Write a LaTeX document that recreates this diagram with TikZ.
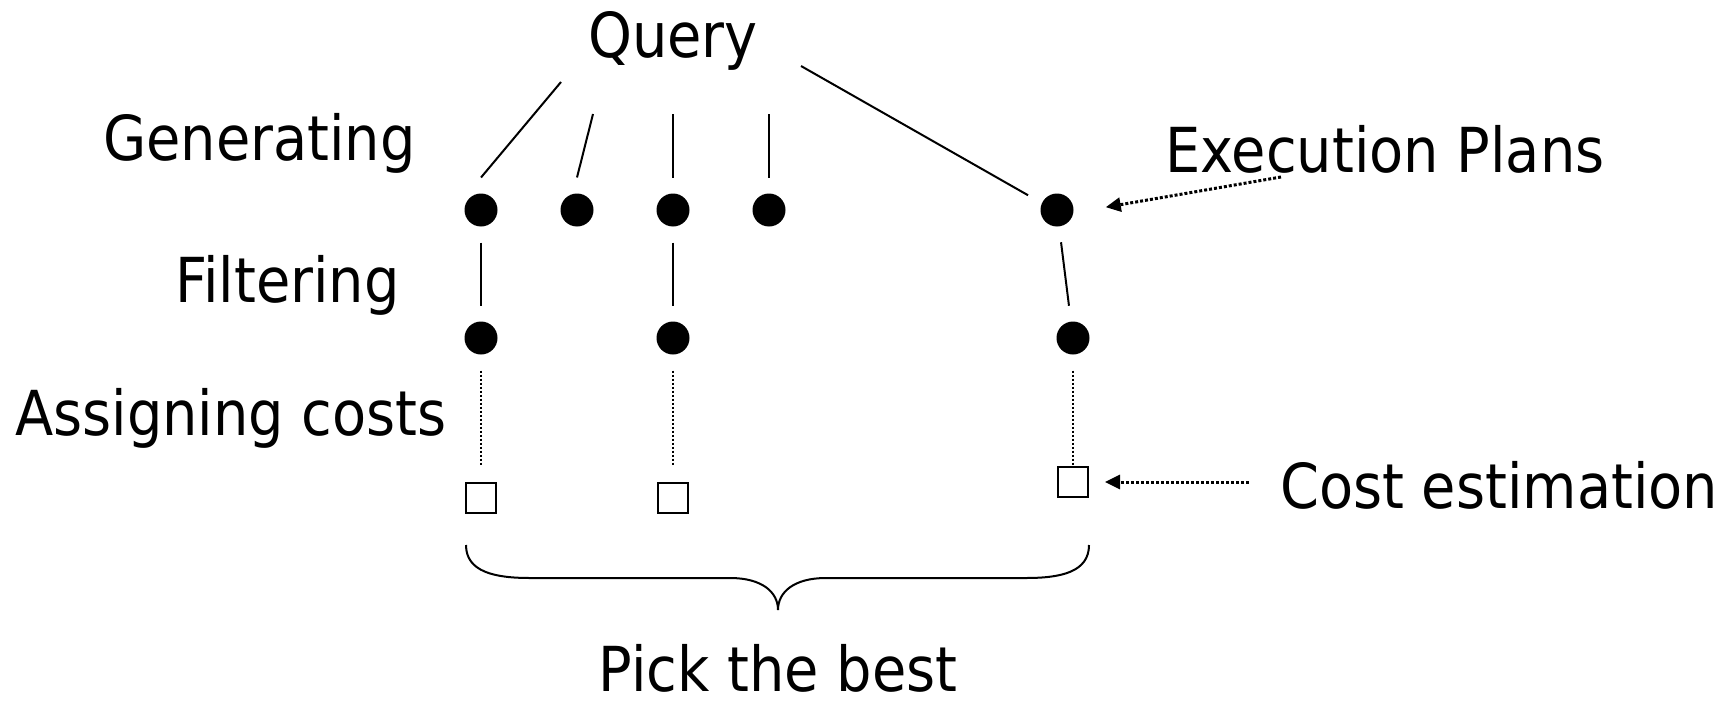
\documentclass[tikz,border=0pt]{standalone}
\usepackage{fontspec}
\setmainfont{DejaVu Sans}[FakeStretch=0.9]
\usetikzlibrary{arrows.meta}
\begin{document}
\begin{tikzpicture}[x=1pt,y=-1pt,
  labeltext/.style={inner sep=0pt, font=\fontsize{62}{74}\selectfont},
  plan/.style={circle, fill=black, minimum size=33pt, inner sep=0pt, outer sep=16pt},
  costbox/.style={draw, line width=2.5pt, minimum size=30pt, inner sep=0pt},
  edge/.style={line width=2pt},
  costlink/.style={line width=2pt, dash pattern=on 2pt off 2pt},
  pointer/.style={line width=3pt, dash pattern=on 3pt off 2pt,
    -{Triangle[length=15pt,width=14pt]}},
]
\useasboundingbox (0,0) rectangle (1720,701);

% stage labels
\node[labeltext, anchor=base] (query) at (673,57) {Query};
\node[labeltext, anchor=base west] (gen) at (103,160) {Generating};
\node[labeltext, anchor=base west] (filt) at (175,302) {Filtering};
\node[labeltext, anchor=base west] (assign) at (15,435) {Assigning costs};
\node[labeltext, anchor=base west] (plans) at (1165,172) {Execution Plans};
\node[labeltext, anchor=base west] (est) at (1280,508) {Cost estimation};
\node[labeltext, anchor=base, text depth=0pt] (pick) at (778,691) {Pick the best};

% generated plans
\node[plan] (d1) at (481,210) {};
\node[plan] (d2) at (577,210) {};
\node[plan] (d3) at (673,210) {};
\node[plan] (d4) at (769,210) {};
\node[plan] (d5) at (1057,210) {};

% plans kept after filtering
\node[plan] (f1) at (481,338) {};
\node[plan] (f2) at (673,338) {};
\node[plan] (f3) at (1073,338) {};

% cost boxes
\node[costbox, outer sep=18pt] (b1) at (481,498) {};
\node[costbox, outer sep=18pt] (b2) at (673,498) {};
\node[costbox, outer sep=0pt] (b3) at (1073,482) {};

% branches leaving the query
\coordinate (q1) at (561,82);
\coordinate (q2) at (593,114);
\coordinate (q3) at (673,114);
\coordinate (q4) at (769,114);
\coordinate (q5) at (801,66);
\draw[edge] (q1) -- (d1.north);
\draw[edge] (q2) -- (d2.north);
\draw[edge] (q3) -- (d3.north);
\draw[edge] (q4) -- (d4.north);
\draw[edge] (q5) -- (d5.153);

% filtering
\draw[edge] (d1) -- (f1);
\draw[edge] (d3) -- (f2);
\draw[edge] (d5) -- (f3);

% cost assignment
\draw[costlink] (f1) -- (b1);
\draw[costlink] (f2) -- (b2);
\draw[costlink] (f3) -- (b3);

% callouts
\coordinate (epfrom) at (1281,177);
\coordinate (cefrom) at (1249,482);
\draw[pointer, shorten >=16.5pt] (epfrom) -- (d5.east);
\draw[pointer, shorten >=17pt] (cefrom) -- (b3.east);

% brace over the costed plans
\draw[edge] (466,545) .. controls (466,572) and (495,578) .. (530,578)
  -- (730,578) .. controls (762,578) and (778,592) .. (778,610)
  .. controls (778,592) and (794,578) .. (826,578)
  -- (1026,578) .. controls (1061,578) and (1089,572) .. (1089,545);
\end{tikzpicture}
\end{document}
